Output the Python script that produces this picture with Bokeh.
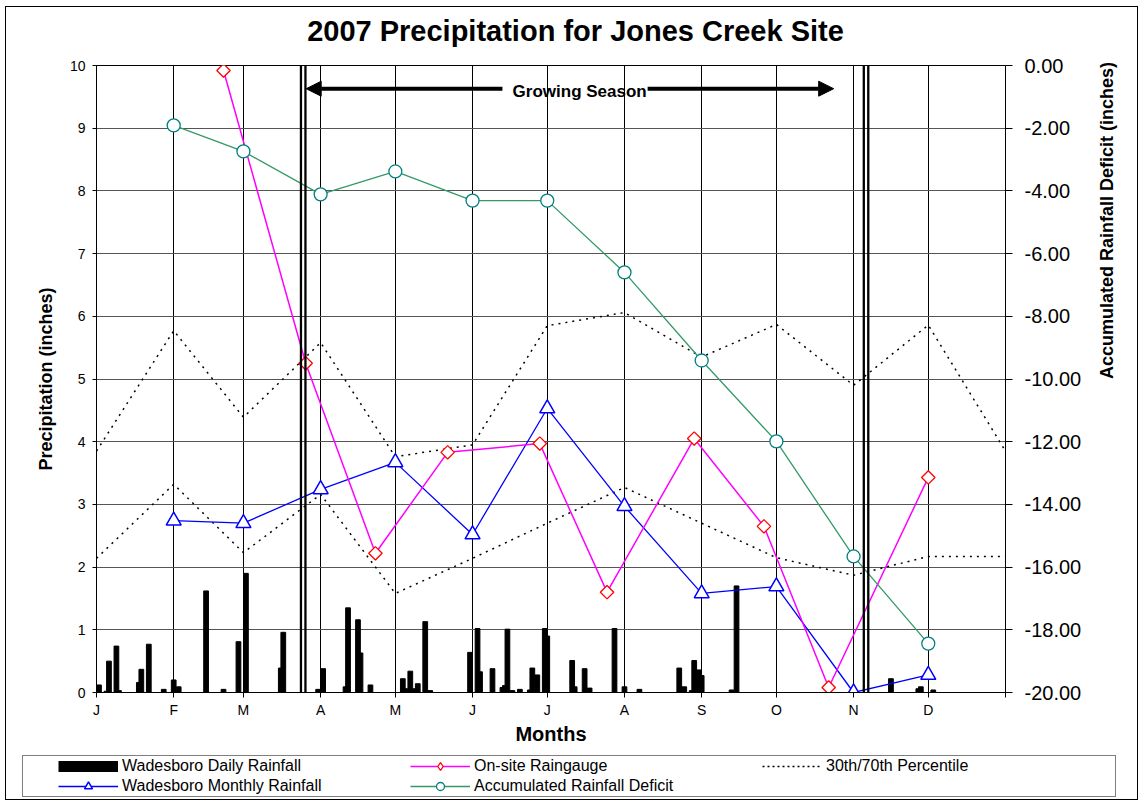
import math
from bokeh.plotting import figure
from bokeh.layouts import column
from bokeh.models import (Range1d, LinearAxis, FixedTicker, NumeralTickFormatter,
                          Legend, LegendItem, Label, Arrow, NormalHead)
from bokeh.embed import file_html
from bokeh.resources import INLINE

FONT = "Liberation Sans"

# ---------------- data ----------------
title_text = "2007 Precipitation for Jones Creek Site"
months = ["J", "F", "M", "A", "M", "J", "J", "A", "S", "O", "N", "D"]
month_start = [0, 31, 59, 90, 120, 151, 181, 212, 243, 273, 304, 334]
year_end = 365

# Wadesboro daily rainfall (day of year offset from Jan 1, inches)
daily_day = [1, 4, 5, 8, 9, 17, 18, 21, 27, 31, 33, 44, 51, 57, 60, 74, 75, 89, 91,
             100, 101, 105, 106, 110, 123, 124, 126, 128, 129, 132, 134, 150, 153, 154,
             159, 163, 164, 165, 167, 170, 174, 175, 177, 180, 181, 191, 192, 196, 198,
             208, 212, 218, 234, 236, 239, 240, 242, 243, 255, 257, 319, 330, 331, 336]
daily_rain = [0.12, 0.02, 0.50, 0.74, 0.03, 0.16, 0.37, 0.77, 0.05, 0.20, 0.09, 1.62, 0.05,
              0.81, 1.90, 0.39, 0.96, 0.05, 0.38, 0.09, 1.35, 1.16, 0.63, 0.12, 0.22, 0.06,
              0.34, 0.06, 0.14, 1.13, 0.03, 0.64, 1.02, 0.33, 0.38, 0.08, 0.11, 1.01, 0.03,
              0.05, 0.04, 0.39, 0.28, 1.02, 0.90, 0.51, 0.09, 0.38, 0.07, 1.02, 0.09, 0.05,
              0.39, 0.09, 0.03, 0.51, 0.36, 0.27, 0.04, 1.70, 0.22, 0.06, 0.09, 0.04]

# Wadesboro monthly rainfall and accumulated deficit (plotted at month starts Feb..Dec)
monthly_day = month_start[1:]
monthly_rain = [2.74, 2.70, 3.24, 3.67, 2.52, 4.53, 2.97, 1.58, 1.69, 0.00, 0.28]
deficit = [-1.91, -2.74, -4.11, -3.38, -4.31, -4.31, -6.60, -9.41, -11.99, -15.66, -18.44]

# On-site raingauge readings
onsite_day = [51, 84, 112, 141, 178, 205, 240, 268, 294, 334]
onsite_rain = [9.92, 5.25, 2.22, 3.83, 3.97, 1.60, 4.05, 2.65, 0.08, 3.43]

# 30th / 70th percentile
pct_day = month_start + [year_end]
pct70 = [3.85, 5.77, 4.39, 5.58, 3.76, 3.95, 5.85, 6.06, 5.35, 5.87, 4.90, 5.86, 3.85]
pct30 = [2.14, 3.32, 2.23, 3.16, 1.58, 2.14, 2.70, 3.27, 2.70, 2.15, 1.87, 2.17, 2.17]

# growing season boundaries (day offsets)
gs_bounds = [83, 309]

W = 1131


def no_frame_align(fig):
    if "frame_align" in fig.properties():
        try:
            fig.frame_align = False
        except Exception:
            pass


# ---------------- title strip ----------------
tf = figure(width=W, height=48, x_range=Range1d(0, W), y_range=Range1d(0, 48),
            output_backend="svg", toolbar_location=None, x_axis_type=None, y_axis_type=None,
            min_border_left=0, min_border_right=0, min_border_top=0, min_border_bottom=0,
            outline_line_color=None)
no_frame_align(tf)
tf.add_layout(Label(x=569, y=25, text=title_text, text_font=FONT, text_font_size="29px",
                    text_font_style="bold", text_color="black",
                    text_align="center", text_baseline="middle"))

# ---------------- main figure ----------------
p = figure(width=W, height=697, output_backend="svg", toolbar_location=None,
           x_range=Range1d(0, year_end), y_range=Range1d(0, 10),
           min_border_left=90, min_border_right=132, min_border_top=10, min_border_bottom=60,
           x_axis_label="Months", y_axis_label="Precipitation (inches)")
no_frame_align(p)
p.outline_line_color = "black"
p.outline_line_width = 1
p.background_fill_color = "white"

# grid
p.xgrid.ticker = FixedTicker(ticks=month_start)
p.xgrid.grid_line_color = "black"
p.xgrid.grid_line_width = 1
p.ygrid.ticker = FixedTicker(ticks=list(range(0, 11)))
p.ygrid.grid_line_color = "#555555"
p.ygrid.grid_line_width = 1

# x axis
xa = p.xaxis[0]
xa.ticker = FixedTicker(ticks=month_start + [year_end])
overrides = {d: m for d, m in zip(month_start, months)}
overrides[year_end] = ""
xa.major_label_overrides = overrides
xa.major_tick_in = 0
xa.major_tick_out = 5
xa.minor_tick_out = 0
xa.minor_tick_in = 0
xa.major_label_standoff = 4
xa.major_label_text_font = FONT
xa.major_label_text_font_size = "14px"
xa.major_label_text_color = "black"
xa.axis_label_text_font = FONT
xa.axis_label_text_font_size = "20px"
xa.axis_label_text_font_style = "bold"
xa.axis_label_text_color = "black"
xa.axis_label_standoff = 2
xa.axis_line_color = "black"

# left axis
ya = p.yaxis[0]
ya.ticker = FixedTicker(ticks=list(range(0, 11)))
ya.major_tick_in = 0
ya.major_tick_out = 4
ya.minor_tick_out = 0
ya.minor_tick_in = 0
ya.major_label_standoff = 7
ya.major_label_text_font = FONT
ya.major_label_text_font_size = "14px"
ya.major_label_text_color = "black"
ya.axis_label_text_font = FONT
ya.axis_label_text_font_size = "18px"
ya.axis_label_text_font_style = "bold"
ya.axis_label_text_color = "black"
ya.axis_label_standoff = 11

# right axis
p.extra_y_ranges = {"deficit": Range1d(-20, 0)}
ar = LinearAxis(y_range_name="deficit", ticker=FixedTicker(ticks=list(range(-20, 1, 2))),
                formatter=NumeralTickFormatter(format="0.00"),
                axis_label="Accumulated Rainfall Deficit (inches)")
ar.major_tick_in = 0
ar.major_tick_out = 7
ar.minor_tick_out = 0
ar.minor_tick_in = 0
ar.major_label_standoff = 12
ar.major_label_text_font = FONT
ar.major_label_text_font_size = "20px"
ar.major_label_text_color = "black"
ar.axis_label_text_font = FONT
ar.axis_label_text_font_size = "18px"
ar.axis_label_text_font_style = "bold"
ar.axis_label_text_color = "black"
ar.axis_label_standoff = 23
if "axis_label_orientation" in ar.properties():
    try:
        ar.axis_label_orientation = math.pi / 2
    except Exception:
        pass
p.add_layout(ar, "right")

# ---------------- glyphs ----------------
p.vbar(x=daily_day, top=daily_rain, width=1.9, fill_color="black", line_color="black")

p.multi_line(xs=[pct_day, pct_day], ys=[pct70, pct30], line_color="black",
             line_dash="2 5", line_width=1.5)

p.line(monthly_day, monthly_rain, line_color="#0000ff", line_width=1.3)
p.scatter(monthly_day, monthly_rain, marker="triangle", size=15,
          line_color="#0000ff", fill_color="white", line_width=1.5)

p.line(onsite_day, onsite_rain, line_color="#ff00ff", line_width=1.5)
p.scatter(onsite_day, onsite_rain, marker="square", angle=math.pi / 4, size=9.5,
          line_color="#ff0000", fill_color="white", line_width=1.3)

p.line(monthly_day, deficit, y_range_name="deficit", line_color="#339966", line_width=1.3)
p.scatter(monthly_day, deficit, y_range_name="deficit", marker="circle", size=13,
          line_color="#008080", fill_color="white", line_width=1.3)

# growing season double lines
gs_x = [b + s for b in gs_bounds for s in (-0.9, 0.9)]
p.segment(x0=gs_x, y0=0, x1=gs_x, y1=10, line_color="black", line_width=2.3)

# growing season arrow
gs_y = 9.63
p.add_layout(Arrow(end=NormalHead(size=15, fill_color="black", line_color="black"),
                   x_start=163, y_start=gs_y, x_end=gs_bounds[0] + 1.2, y_end=gs_y,
                   line_width=4, line_color="black"))
p.add_layout(Arrow(end=NormalHead(size=15, fill_color="black", line_color="black"),
                   x_start=221.3, y_start=gs_y, x_end=296, y_end=gs_y,
                   line_width=4, line_color="black"))
p.add_layout(Label(x=194, y=9.58, text="Growing Season", text_font=FONT,
                   text_font_size="17px", text_font_style="bold", text_color="black",
                   text_align="center", text_baseline="middle"))

# ---------------- legend strip ----------------
lf = figure(width=W, height=47, x_range=Range1d(0, 1), y_range=Range1d(0, 1),
            output_backend="svg", toolbar_location=None, x_axis_type=None, y_axis_type=None,
            min_border_left=0, min_border_right=0, min_border_top=0, min_border_bottom=0,
            outline_line_color=None)
no_frame_align(lf)
off = [-5]  # keys drawn off-canvas; only their legend glyphs are visible
k_daily = lf.line(off, off, line_color="black", line_width=11)
k_oline = lf.line(off, off, line_color="#ff00ff", line_width=1.5)
k_opts = lf.scatter(off, off, marker="diamond", size=12, line_color="#ff0000",
                    fill_color="white", line_width=1.3)
k_pct = lf.line(off, off, line_color="black", line_dash="2 3", line_width=1.5)
k_mline = lf.line(off, off, line_color="#0000ff", line_width=1.3)
k_mpts = lf.scatter(off, off, marker="triangle", size=12, line_color="#0000ff",
                    fill_color="white", line_width=1.5)
k_dline = lf.line(off, off, line_color="#339966", line_width=1.3)
k_dpts = lf.scatter(off, off, marker="circle", size=12, line_color="#008080",
                    fill_color="white", line_width=1.3)

legend = Legend(items=[
    LegendItem(label="Wadesboro Daily Rainfall", renderers=[k_daily]),
    LegendItem(label="On-site Raingauge", renderers=[k_oline, k_opts]),
    LegendItem(label="30th/70th Percentile", renderers=[k_pct]),
    LegendItem(label="Wadesboro Monthly Rainfall", renderers=[k_mline, k_mpts]),
    LegendItem(label="Accumulated Rainfall Deficit", renderers=[k_dline, k_dpts]),
], orientation="horizontal", ncols=3, location=(16, 2), margin=0, spacing=0,
    glyph_width=60, glyph_height=20, label_standoff=4, label_height=20,
    label_text_font=FONT, label_text_font_size="16px", label_text_color="black",
    border_line_color="black", border_line_width=1,
    background_fill_color="white", background_fill_alpha=1.0)
try:
    legend.padding = dict(top=0, right=1, bottom=0, left=35)
    legend.label_width = 288
except Exception:
    legend.padding = 1
    legend.glyph_width = 94
    legend.label_width = 256
lf.add_layout(legend)

layout = column(tf, p, lf, spacing=0,
                styles={"border": "1px solid black", "margin": "6px 0px 0px 5px"})

open("out.html", "w").write(file_html(layout, INLINE))
